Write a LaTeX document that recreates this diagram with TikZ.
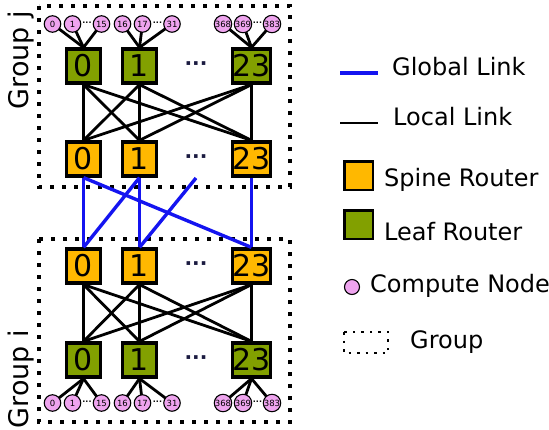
\documentclass[tikz,border=0pt]{standalone}
\usepackage{fontspec}
\setmainfont{DejaVu Sans}
\usetikzlibrary{calc}

\definecolor{spinecol}{HTML}{FFB800}
\definecolor{leafcol}{HTML}{82A000}
\definecolor{nodecol}{HTML}{EEA4EE}
\definecolor{globcol}{HTML}{1414F0}
\definecolor{dotcol}{HTML}{1A1A40}

\tikzset{
	router/.style={draw, line width=3.2pt, minimum size=34pt, inner sep=0pt, font=\fontsize{30}{30}\selectfont},
	spine/.style={router, fill=spinecol},
	leaf/.style={router, fill=leafcol},
	cnode/.style={circle, draw, line width=1.1pt, fill=nodecol, minimum size=16.5pt, inner sep=0pt, font=\fontsize{8.5}{8.5}\selectfont},
	local/.style={line width=2.8pt},
	global/.style={line width=3.4pt, color=globcol},
	groupbox/.style={line width=3.8pt, dash pattern=on 3.8pt off 8.2pt},
	bigdots/.style={font=\bfseries\fontsize{20}{20}\selectfont, text=dotcol, inner sep=0pt},
	smalldots/.style={font=\bfseries\fontsize{8}{8}\selectfont, inner sep=0pt},
	legtext/.style={anchor=west, inner sep=0pt, font=\fontsize{24}{24}\selectfont},
}

\begin{document}
\begin{tikzpicture}[x=1pt, y=-1pt]
			%%%%% START %%%%%
			\useasboundingbox (0,0) rectangle (549,429);
			
			% groups
			\draw[groupbox] (39,6) rectangle (290,187);
			\draw[groupbox] (39,239) rectangle (290,422);
			\node[rotate=90, font=\fontsize{27}{27}\selectfont] (gj) at (21,60) {Group j};
			\node[rotate=90, font=\fontsize{27}{27}\selectfont] (gi) at (21,379) {Group i};
			
			% routers of group j
			\node[leaf] (lj0) at (83.5,66) {0};
			\node[leaf] (lj1) at (139.5,66) {1};
			\node[leaf] (lj23) at (251.5,66) {23};
			\node[bigdots] (ljdots) at (196,66) {···};
			
			\node[spine] (sj0) at (83.5,159) {0};
			\node[spine] (sj1) at (139.5,159) {1};
			\node[spine] (sj23) at (251.5,159) {23};
			\node[bigdots] (sjdots) at (196,159) {···};
			
			% routers of group i
			\node[spine] (si0) at (83.5,266) {0};
			\node[spine] (si1) at (139.5,266) {1};
			\node[spine] (si23) at (251.5,266) {23};
			\node[bigdots] (sidots) at (196,266) {···};
			
			\node[leaf] (li0) at (83.5,360) {0};
			\node[leaf] (li1) at (139.5,360) {1};
			\node[leaf] (li23) at (251.5,360) {23};
			\node[bigdots] (lidots) at (196,360) {···};
			
			% local links
			\foreach \a in {0,1,23}
				\foreach \b in {0,1,23}{
					\draw[local] (lj\a.south) -- (sj\b.north);
					\draw[local] (li\a.north) -- (si\b.south);
				}
			
			% compute nodes
			\foreach \x/\n/\r in {52.5/0/0, 72.5/1/0, 101.5/15/0, 122.5/16/1, 142.5/17/1, 172/31/1, 223/368/23, 243/369/23, 272/383/23}{
				\draw[local] (\x,24) -- (lj\r.north);
				\node[cnode] (cj\n) at (\x,24) {\n};
				\draw[local] (\x,403) -- (li\r.south);
				\node[cnode] (ci\n) at (\x,403) {\n};
			}
			\node[smalldots] (cjd0) at (87,24) {···};
			\node[smalldots] (cjd1) at (157.5,24) {···};
			\node[smalldots] (cjd23) at (257.5,24) {···};
			\node[smalldots] (cid0) at (87,403) {···};
			\node[smalldots] (cid1) at (157.5,403) {···};
			\node[smalldots] (cid23) at (257.5,403) {···};
			
			% global links
			\coordinate (gdots) at (196,178);
			\draw[global] (sj0.south) -- (si0.north);
			\draw[global] (sj0.south) -- (si23.north);
			\draw[global] (sj1.south) -- (si1.north);
			\draw[global] (sj1.south) -- (si0.north);
			\draw[global] (gdots) -- (si1.north);
			\draw[global] (sj23.south) -- (si23.north);
			
			% legend
			\draw[global] (340,73) -- (378,73);
			\node[legtext] (lglobal) at (392,67) {Global Link};
			\draw[local] (340,123) -- (378,123);
			\node[legtext] (llocal) at (393,117) {Local Link};
			\node[spine, minimum size=28.5pt, line width=2.5pt] (lspine) at (358.5,175.5) {};
			\node[legtext] (lspinet) at (384,180) {Spine Router};
			\node[leaf, minimum size=28.5pt, line width=2.5pt] (lleaf) at (358.5,224.5) {};
			\node[legtext] (lleaft) at (384,232) {Leaf Router};
			\node[cnode, minimum size=15pt] (lnode) at (352,287) {};
			\node[legtext] (lnodet) at (370,286) {Compute Node};
			\draw[line width=2.5pt, dash pattern=on 2.5pt off 6pt] (344,332) rectangle (388,353);
			\node[legtext] (lgroup) at (410,342) {Group};
			
			%%%%% END %%%%%
\end{tikzpicture}
\end{document}
